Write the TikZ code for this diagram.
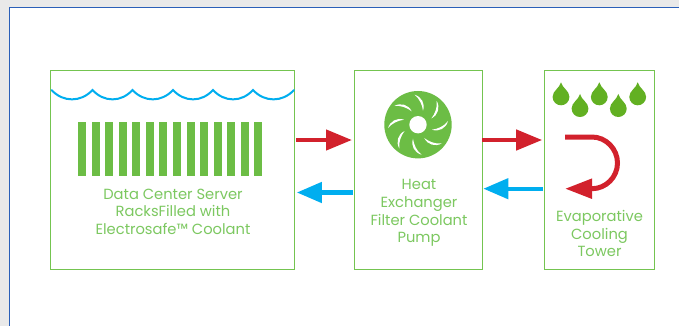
\documentclass[tikz,border=0pt]{standalone}
\usepackage{fontspec}
\setmainfont{Poppins}
\usetikzlibrary{arrows.meta}
\definecolor{gbox}{HTML}{74C450}
\definecolor{gtxt}{HTML}{7CC860}
\definecolor{gbar}{HTML}{6CBD45}
\definecolor{gdrop}{HTML}{62B022}
\definecolor{rd}{HTML}{D2212C}
\definecolor{bl}{HTML}{00AEEF}
\definecolor{frameblue}{HTML}{2A5FB8}
\definecolor{bg}{HTML}{E9E9E9}
\tikzset{
  boxnode/.style={draw=gbox,line width=1.1pt,fill=white,inner sep=0pt,anchor=north west},
  label/.style={text=gtxt,font=\fontsize{14.7}{17.6}\selectfont,align=center,inner sep=0pt},
  redarrow/.style={draw=rd,line width=4.4pt,-{Triangle[length=26pt,width=20pt,fill=rd]}},
  bluearrow/.style={draw=bl,line width=4.4pt,-{Triangle[length=25pt,width=20pt,fill=bl]}},
  wave/.style={draw=bl,line width=2pt,line cap=round},
  rackbar/.style={fill=gbar},
  drop/.pic={\fill[gdrop] (0,0) .. controls (1.5,6) and (8.4,8.5) .. (8.4,14.5)
     .. controls (8.4,19.5) and (4.5,23) .. (0,23)
     .. controls (-4.5,23) and (-8.4,19.5) .. (-8.4,14.5)
     .. controls (-8.4,8.5) and (-1.5,6) .. (0,0) -- cycle;},
  blade/.pic={\fill[white] (-3.5,-30) .. controls (3.5,-28) and (7.5,-21) .. (5,-14)
     .. controls (4.2,-20) and (1.5,-26) .. (-3.5,-30) -- cycle;}
}
\begin{document}
\begin{tikzpicture}[x=1pt,y=-1pt]
\useasboundingbox (0,0) rectangle (679,326);
\fill[bg] (0,0) rectangle (679,326);
\fill[white] (9.5,7.5) rectangle (679,326);
\draw[frameblue,line width=1.3pt] (9.5,326) -- (9.5,7.5) -- (679,7.5);

\node[boxnode,minimum width=244pt,minimum height=199.5pt] (rack) at (50.2,69.7) {};
\node[boxnode,minimum width=128pt,minimum height=199.5pt] (hx) at (353.7,69.7) {};
\node[boxnode,minimum width=110pt,minimum height=199.5pt] (tower) at (544.2,69.7) {};

% coolant surface
\draw[wave] (51.5,90) .. controls (63,102.5) and (81,102.5) .. (92.5,90)
  .. controls (104,102.5) and (121,102.5) .. (132.5,90)
  .. controls (144,102.5) and (161.5,102.5) .. (173,90)
  .. controls (184.5,102.5) and (201.5,102.5) .. (213,90)
  .. controls (224.5,102.5) and (241.5,102.5) .. (253,90)
  .. controls (264.5,102.5) and (282.5,102.5) .. (294,90);

% racks
\foreach \xa in {78,92,105,119,132,146,159,173,187,200,214,227,241,254}
  \fill[rackbar] (\xa,122) rectangle ++(8,54);

% fan
\coordinate (fanc) at (418,124.7);
\fill[gbar] (fanc) circle[radius=33.7];
\fill[white] (fanc) circle[radius=8.7];
\foreach \ang in {0,45,...,315}
  \pic[rotate=-\ang] at (fanc) {blade};

% drops
\foreach \xa/\ya in {561/82.3,580/94,599.3/82.3,618.3/94,637.7/82.3}
  \pic at (\xa,\ya) {drop};

% labels
\node[label] (racktxt) at (173,211.5) {Data Center Server\\RacksFilled with\\Electrosafe™ Coolant};
\node[label] (hxtxt) at (419,213) {Heat\\Exchanger\\Filter Coolant\\Pump};
\node[label] (towertxt) at (599.5,233.5) {Evaporative\\Cooling\\Tower};

% connectors
\coordinate (a) at (rack.east |- 0,140);
\coordinate (b) at (hx.west |- 0,140);
\coordinate (c) at (hx.west |- 0,192.5);
\coordinate (d) at (rack.east |- 0,192.5);
\coordinate (e) at (hx.east |- 0,140);
\coordinate (f) at (tower.west |- 0,140);
\coordinate (g) at (tower.west |- 0,188.7);
\coordinate (h) at (hx.east |- 0,188.7);
\draw[redarrow] ([xshift=1pt]a) -- ([xshift=-1.7pt]b);
\draw[bluearrow] ([xshift=-1pt]c) -- ([xshift=1.5pt]d);
\draw[redarrow] ([xshift=-0.8pt]e) -- ([xshift=-2pt]f);
\draw[bluearrow] ([xshift=-1.2pt]g) -- ([xshift=0.5pt]h);

\coordinate (u1) at (565,137);
\coordinate (u2) at (592,137);
\coordinate (u3) at (617.5,163);
\coordinate (u4) at (592,188.7);
\coordinate (u5) at (565,188.7);
\draw[redarrow,line width=5pt,-{Triangle[length=27pt,width=19pt,fill=rd]}] (u1) -- (u2)
  .. controls (606,137) and (617.5,149) .. (u3)
  .. controls (617.5,177) and (606,188.7) .. (u4) -- (u5);
\end{tikzpicture}
\end{document}
